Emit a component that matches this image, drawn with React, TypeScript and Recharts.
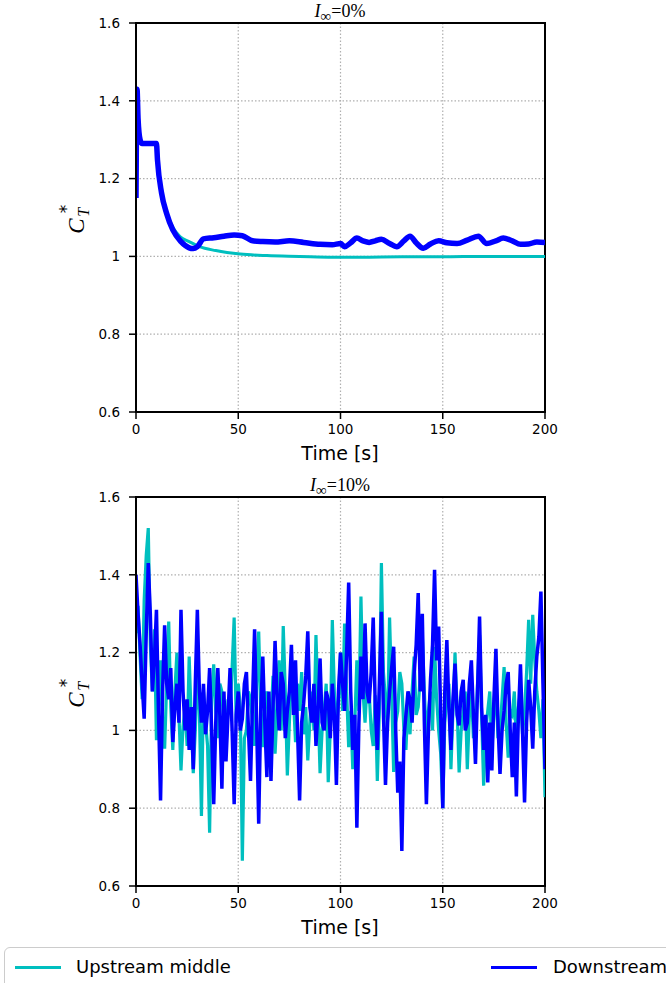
import React from 'react'
import {
  LineChart,
  Line,
  XAxis,
  YAxis,
  CartesianGrid,
  ReferenceArea,
} from 'recharts'

// I_inf = 0 %: smooth runs, sampled at uneven times
const topUpTime = [0, 0.5, 1, 2, 3, 10, 10.5, 12.5, 15, 18, 21.5, 26, 31, 39, 51, 64, 80, 96, 110, 130, 150, 170, 200]
const topUpValue = [1.15, 1.43, 1.355, 1.3, 1.29, 1.29, 1.248, 1.163, 1.11, 1.075, 1.051, 1.038, 1.025, 1.015, 1.006, 1.002, 1.0, 0.998, 0.998, 0.999, 0.999, 1.0, 1.0]

const topDownTime = [
  0, 0.5, 1, 2, 3, 6, 10, 10.5, 12.5, 15, 18, 22, 26, 28, 30, 33, 38, 43, 48, 52, 57, 62, 68, 75, 82, 90, 96,
  100, 102, 105, 108, 111, 114, 117, 120, 124, 127.5, 131, 134, 137, 140.5, 144, 148, 152, 157, 162, 167.4,
  171.5, 176, 179.6, 184, 188, 192, 196, 200,
]
const topDownValue = [
  1.15, 1.43, 1.355, 1.3, 1.29, 1.29, 1.29, 1.248, 1.163, 1.11, 1.068, 1.038, 1.022, 1.02, 1.025, 1.045, 1.048,
  1.052, 1.055, 1.053, 1.04, 1.038, 1.037, 1.04, 1.036, 1.031, 1.03, 1.033, 1.025, 1.035, 1.047, 1.04, 1.036,
  1.04, 1.044, 1.033, 1.025, 1.04, 1.052, 1.035, 1.021, 1.032, 1.04, 1.035, 1.033, 1.042, 1.052, 1.033, 1.04,
  1.047, 1.04, 1.031, 1.032, 1.037, 1.036,
]

// I_inf = 10 %: one sample per second, t = 0..200
const bottomUpstream = [
  1.25, 1.32, 1.19, 1.08, 1.335, 1.45, 1.52, 1.22, 1.1, 1.26,
  0.975, 1.05, 1.18, 1.02, 0.953, 1.12, 1.28, 1.06, 0.95, 1.1,
  1.2, 1.04, 0.897, 1.01, 1.06, 0.96, 1.19, 1.03, 0.89, 1.0,
  1.15, 1.05, 0.78, 1.1, 1.02, 0.96, 0.737, 1.08, 1.17, 1.05,
  0.98, 1.12, 1.1, 1.0, 0.95, 1.08, 1.05, 1.16, 1.29, 1.02,
  1.12, 1.06, 0.665, 0.98, 1.0, 1.1, 1.08, 1.02, 0.96, 1.12,
  1.254, 1.05, 0.957, 1.08, 1.1, 0.99, 1.02, 1.14, 0.94, 1.05,
  1.18, 1.0, 1.268, 1.1, 0.884, 1.02, 1.15, 1.08, 0.97, 1.12,
  1.05, 1.15, 0.99, 1.06, 0.923, 1.02, 1.1, 1.0, 1.245, 1.07,
  0.89, 1.0, 1.05, 1.12, 0.867, 1.0, 1.284, 1.1, 1.0, 1.08,
  1.2, 1.05, 1.275, 1.1, 0.957, 1.05, 0.9, 1.02, 1.18, 1.05,
  1.344, 1.1, 1.02, 1.12, 1.1, 1.0, 0.96, 1.09, 0.87, 1.05,
  1.43, 1.15, 1.08, 1.0, 1.29, 1.1, 0.893, 1.02, 1.05, 1.15,
  1.12, 1.0, 0.95, 1.08, 0.99, 1.1, 1.19, 1.04, 1.06, 1.14,
  1.245, 1.1, 0.98, 1.05, 1.1, 1.0, 1.215, 1.08, 1.0, 0.94,
  0.8, 1.02, 1.08, 1.12, 0.9, 1.05, 1.2, 1.06, 0.892, 1.0,
  1.05, 1.1, 0.9, 1.04, 1.1, 0.98, 1.0, 1.12, 1.245, 1.04,
  0.858, 1.0, 1.05, 1.1, 0.95, 1.04, 1.12, 0.98, 1.0, 1.08,
  1.163, 1.02, 0.93, 1.05, 1.04, 1.1, 0.97, 1.06, 1.1, 0.99,
  1.05, 1.15, 1.284, 1.12, 1.297, 1.18, 1.1, 1.05, 0.98, 1.08,
  0.828,
]
const bottomDownstream = [
  1.4, 1.3, 1.22, 1.12, 1.03, 1.25, 1.43, 1.3, 1.1, 1.18,
  1.31, 1.05, 0.82, 1.1, 1.27, 1.12, 1.08, 1.16, 0.97, 1.06,
  1.12, 1.02, 1.31, 1.1, 1.0, 1.08, 0.95, 1.06, 0.9, 1.12,
  1.31, 1.1, 1.02, 1.12, 0.99, 1.05, 1.16, 1.0, 0.81, 1.02,
  1.16, 1.04, 0.85, 1.1, 0.92, 1.04, 1.16, 1.0, 0.81, 1.04,
  1.1, 1.0, 1.03, 1.12, 1.15, 1.0, 0.87, 1.08, 1.26, 1.02,
  0.76, 1.05, 1.19, 1.02, 0.88, 1.1, 0.87, 1.06, 1.23, 1.08,
  1.0, 1.15, 1.12, 0.98, 1.05, 1.1, 1.22, 1.04, 1.18, 1.0,
  0.82, 1.02, 1.07, 1.14, 1.255, 1.06, 1.02, 1.12, 0.96, 1.05,
  1.185, 1.02, 1.0, 1.1, 1.08, 0.98, 1.12, 1.04, 0.86, 1.1,
  1.2, 1.12, 1.05, 1.2, 1.38, 1.1, 0.95, 1.04, 0.75, 1.02,
  1.19, 1.08, 1.275, 1.1, 1.07, 1.15, 1.29, 1.06, 0.95, 1.12,
  1.305, 1.04, 0.86, 1.02, 1.1, 1.16, 1.215, 1.0, 0.84, 0.92,
  0.69, 0.98, 1.04, 1.1, 1.08, 1.02, 1.146, 1.22, 1.353, 1.1,
  1.3, 1.02, 0.81, 1.0, 1.13, 1.22, 1.413, 1.18, 1.267, 1.04,
  0.8, 1.1, 1.232, 1.06, 0.95, 1.08, 1.172, 1.04, 1.013, 1.1,
  1.13, 1.0, 1.02, 1.12, 1.18, 1.04, 0.914, 1.1, 1.293, 1.06,
  0.95, 1.04, 0.866, 1.02, 0.897, 1.08, 1.21, 1.02, 0.888, 1.0,
  1.05, 1.12, 1.15, 1.0, 0.88, 1.02, 0.83, 1.04, 1.17, 1.0,
  0.815, 1.02, 1.13, 1.06, 0.953, 1.1, 1.19, 1.24, 1.357, 1.12,
  0.9,
]

const xTicks = [0, 50, 100, 150, 200]
const yTicks = [0.6, 0.8, 1, 1.2, 1.4, 1.6]

const CYAN = '#00bfbf'
const BLUE = '#0000ff'
const SANS = "'DejaVu Sans', sans-serif"
const SERIF = "'Liberation Serif', 'DejaVu Serif', serif"

const topUp = topUpTime.map((t, i) => ({ t, v: topUpValue[i] }))
const topDown = topDownTime.map((t, i) => ({ t, v: topDownValue[i] }))
const bottomData = bottomUpstream.map((v, i) => ({ t: i, up: v, down: bottomDownstream[i] }))

const tickStyle = { fill: '#000', fontSize: 13.5, fontFamily: SANS }

function Panel({ top, pct, children }: { top: number; pct: string; children: React.ReactNode }) {
  return (
    <div style={{ position: 'absolute', left: 0, top, width: 666, height: 470 }}>
      <div
        style={{
          position: 'absolute',
          left: 240,
          width: 200,
          top: 1,
          textAlign: 'center',
          fontFamily: SERIF,
          fontSize: 18,
          color: '#000',
          whiteSpace: 'nowrap',
          lineHeight: '20px',
        }}
      >
        <i>I</i>
        <span style={{ fontSize: 15, position: 'relative', top: 4 }}>∞</span>=
        {pct}
      </div>
      <div
        style={{
          position: 'absolute',
          left: 77 - 35,
          top: 220 - 14,
          width: 70,
          height: 28,
          transform: 'rotate(-90deg)',
          fontFamily: SERIF,
          fontSize: 23,
          color: '#000',
          whiteSpace: 'nowrap',
          lineHeight: '28px',
          textAlign: 'center',
        }}
      >
        <i>C</i>
        <span style={{ position: 'relative', display: 'inline-block', width: 12 }}>
          <i style={{ fontSize: 16, position: 'relative', top: 5 }}>T</i>
          <span style={{ position: 'absolute', left: 5, top: -11, fontSize: 17, fontFamily: SANS }}>*</span>
        </span>
      </div>
      <div
        style={{
          position: 'absolute',
          left: 240,
          width: 200,
          top: 442,
          textAlign: 'center',
          fontFamily: SANS,
          fontSize: 19,
          color: '#000',
        }}
      >
        Time [s]
      </div>
      {children}
    </div>
  )
}

export default function App() {
  const commonX = (
    <XAxis
      dataKey="t"
      type="number"
      domain={[0, 200]}
      ticks={xTicks}
      height={58}
      tick={tickStyle}
      tickSize={7}
      tickMargin={5}
      axisLine={{ stroke: '#000', strokeWidth: 2 }}
      tickLine={{ stroke: '#000', strokeWidth: 1.5 }}
      allowDataOverflow
    />
  )
  const commonY = (
    <YAxis
      type="number"
      domain={[0.6, 1.6]}
      ticks={yTicks}
      width={136}
      tick={tickStyle}
      tickSize={7}
      tickMargin={9}
      tickFormatter={(v: number) => (v === 1 ? '1' : v.toFixed(1))}
      axisLine={{ stroke: '#000', strokeWidth: 2 }}
      tickLine={{ stroke: '#000', strokeWidth: 1.5 }}
      allowDataOverflow
    />
  )
  const grid = <CartesianGrid stroke="#b0b0b0" strokeDasharray="1.5 2" strokeWidth={1.2} />
  const frame = (
    <ReferenceArea x1={0} x2={200} y1={0.6} y2={1.6} fill="none" stroke="#000" strokeWidth={2} ifOverflow="visible" />
  )
  const margin = { top: 23, right: 121, bottom: 0, left: 0 }

  return (
    <div style={{ position: 'absolute', left: 0, top: 0, width: 666, height: 983, background: '#fff', overflow: 'hidden' }}>
      <Panel top={0} pct="0%">
        <LineChart width={666} height={470} margin={margin}>
          {grid}
          {commonX}
          {commonY}
          <Line data={topUp} dataKey="v" type="monotone" stroke={CYAN} strokeWidth={3} dot={false} isAnimationActive={false} />
          <Line data={topDown} dataKey="v" type="monotone" stroke={BLUE} strokeWidth={5.5} dot={false} isAnimationActive={false} />
          {frame}
        </LineChart>
      </Panel>
      <Panel top={474} pct="10%">
        <LineChart width={666} height={470} margin={margin} data={bottomData}>
          {grid}
          {commonX}
          {commonY}
          <Line dataKey="up" type="linear" stroke={CYAN} strokeWidth={3.2} dot={false} isAnimationActive={false} />
          <Line dataKey="down" type="linear" stroke={BLUE} strokeWidth={3.5} dot={false} isAnimationActive={false} />
          {frame}
        </LineChart>
      </Panel>
      <div
        style={{
          position: 'absolute',
          left: 4,
          top: 947,
          width: 700,
          height: 60,
          border: '1.5px solid #cccccc',
          borderRadius: 6,
          boxSizing: 'border-box',
          fontFamily: SANS,
          fontSize: 18,
          color: '#000',
        }}
      >
        <div style={{ position: 'absolute', left: 10, top: 18, width: 46, height: 3, background: CYAN }} />
        <div style={{ position: 'absolute', left: 71, top: 8, whiteSpace: 'nowrap' }}>Upstream middle</div>
        <div style={{ position: 'absolute', left: 486, top: 18, width: 46, height: 3, background: BLUE }} />
        <div style={{ position: 'absolute', left: 548, top: 8, whiteSpace: 'nowrap' }}>Downstream</div>
      </div>
    </div>
  )
}
